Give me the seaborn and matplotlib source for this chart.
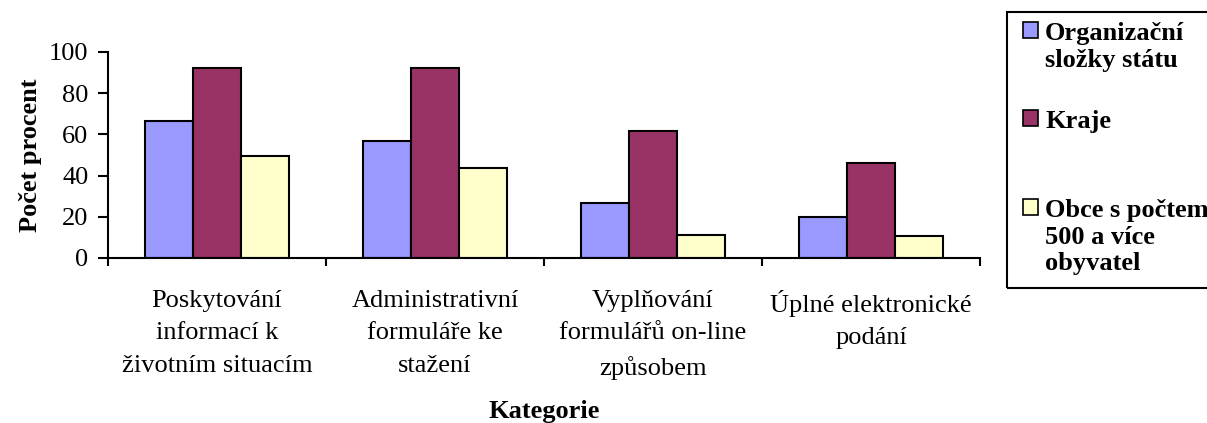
import matplotlib
matplotlib.use("Agg")
import matplotlib.pyplot as plt
from matplotlib.patches import Rectangle
import seaborn as sns
import pandas as pd

categories = ["Poskytování\ninformací k\nživotním situacím",
              "Administrativní\nformuláře ke\nstažení",
              "Vyplňování\nformulářů on-line\nzpůsobem",
              "Úplné elektronické\npodání"]
series = ["Organizační\nsložky státu", "Kraje", "Obce s počtem\n500 a více\nobyvatel"]
organizacni = [66.5, 56.8, 26.8, 19.8]
kraje = [92.1, 92.1, 61.8, 46.3]
obce = [49.5, 43.9, 11.1, 10.5]
colors = ["#9999FF", "#993366", "#FFFFCC"]

rows = []
for name, vals in zip(series, [organizacni, kraje, obce]):
    for cat, v in zip(categories, vals):
        rows.append({"kategorie": cat, "hodnota": v, "skupina": name})
df = pd.DataFrame(rows)

sns.set_style("white")
plt.rcParams["font.family"] = ["Liberation Serif", "DejaVu Serif"]
plt.rcParams["font.size"] = 19
for k in ["text.color", "axes.labelcolor", "xtick.color", "ytick.color"]:
    plt.rcParams[k] = "black"

W, H = 1207, 423
fig = plt.figure(figsize=(W / 100, H / 100), dpi=100)
ax = fig.add_axes([108 / W, 165 / H, 872 / W, 206 / H])

sns.barplot(data=df, x="kategorie", y="hodnota", hue="skupina", palette=colors,
            saturation=1, width=0.66, gap=0, edgecolor="black", linewidth=1.5,
            legend=False, ax=ax)

ax.set_ylim(0, 100)
ax.set_xlim(-0.5, 3.5)
ax.set_yticks([0, 20, 40, 60, 80, 100])
for s in ["top", "right"]:
    ax.spines[s].set_visible(False)
for s in ["left", "bottom"]:
    ax.spines[s].set_linewidth(1.5)
    ax.spines[s].set_color("black")

ax.tick_params(axis="y", length=7, width=1.5, direction="out", pad=7, left=True)
ax.tick_params(axis="x", which="major", length=0, pad=23)
ax.set_xticks([-0.5, 0.5, 1.5, 2.5, 3.5], minor=True)
ax.tick_params(axis="x", which="minor", length=6, width=1.5, direction="out", bottom=True)
for lab in ax.get_xticklabels():
    lab.set_linespacing(1.62)

ax.set_ylabel("Počet procent", fontweight="bold", labelpad=5)
ax.set_xlabel("Kategorie", fontweight="bold", labelpad=14)

# legend box, drawn like the original (swatch beside the first line)
def fx(x):
    return x / W

def fy(y):
    return 1 - y / H

fig.patches.append(Rectangle((fx(1007), fy(288)), fx(1212) - fx(1007), fy(12) - fy(288),
                             transform=fig.transFigure, fill=False, edgecolor="black",
                             linewidth=1.5))
baselines = [40, 128, 217]
step = 26.5
for name, col, yb in zip(series, colors, baselines):
    fig.patches.append(Rectangle((fx(1023), fy(yb - 2)), fx(1038) - fx(1023), fy(yb - 18) - fy(yb - 2),
                                 transform=fig.transFigure, facecolor=col,
                                 edgecolor="black", linewidth=1.2))
    for i, line in enumerate(name.split("\n")):
        fig.text(fx(1045), fy(yb + i * step), line, ha="left", va="baseline",
                 fontweight="bold", fontsize=19)

fig.savefig("out.png", dpi=100)
